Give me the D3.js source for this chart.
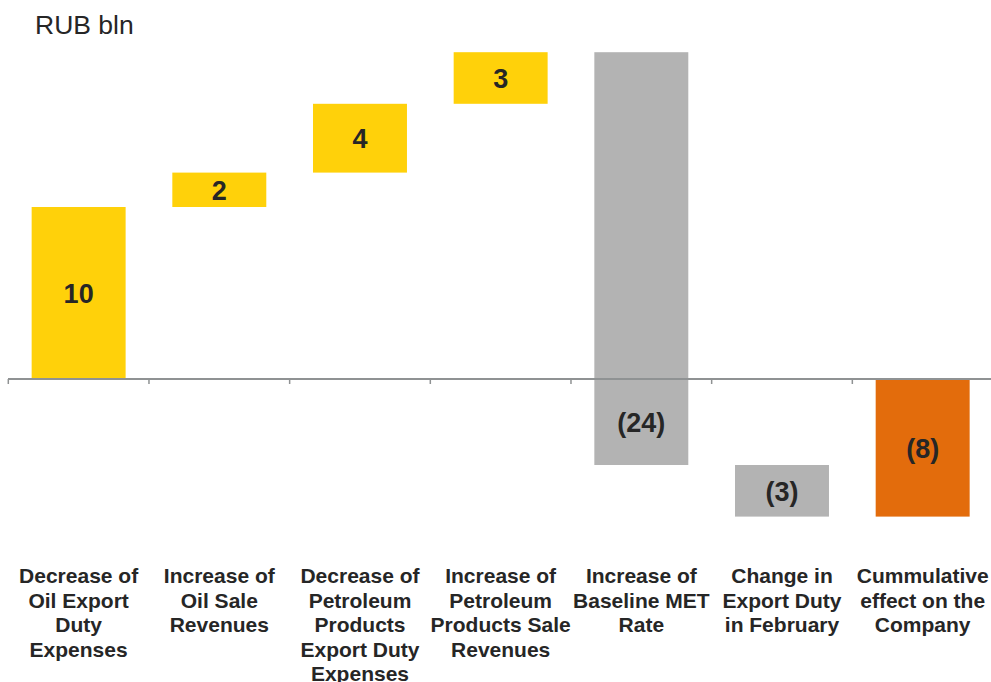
<!DOCTYPE html>
<html>
<head>
<meta charset="utf-8">
<script src="https://cdn.jsdelivr.net/npm/d3@7"></script>
<style>
  html, body { margin: 0; padding: 0; background: #fff; }
  svg { display: block; font-family: "Liberation Sans", Arial, sans-serif; }
</style>
</head>
<body>
<svg id="chart" width="991" height="682"></svg>
<script>
const categories = [
  ["Decrease of", "Oil Export", "Duty", "Expenses"],
  ["Increase of", "Oil Sale", "Revenues"],
  ["Decrease of", "Petroleum", "Products", "Export Duty", "Expenses"],
  ["Increase of", "Petroleum", "Products Sale", "Revenues"],
  ["Increase of", "Baseline MET", "Rate"],
  ["Change in", "Export Duty", "in February"],
  ["Cummulative", "effect on the", "Company"]
];
const values = [10, 2, 4, 3, -24, -3, -8];
const valueLabels = ["10", "2", "4", "3", "(24)", "(3)", "(8)"];
const kinds = ["up", "up", "up", "up", "down", "down", "total"];
const unitLabel = "RUB bln";

const colors = { up: "#FFD10A", down: "#B3B3B3", total: "#E36C0C" };

// waterfall spans
let run = 0;
const bars = values.map((v, i) => {
  let start, end;
  if (kinds[i] === "total") { start = 0; end = v; run = v; }
  else { start = run; end = run + v; run = end; }
  return { i, v, start, end, kind: kinds[i], label: valueLabels[i] };
});

const svg = d3.select("#chart");
const x = d3.scaleBand()
  .domain(d3.range(categories.length))
  .range([8.3, 993])
  .paddingInner(0.332)
  .paddingOuter(0.166);

const y = d3.scaleLinear().domain([0, 19]).range([379, 52.2]);

// bars
svg.append("g").selectAll("rect").data(bars).join("rect")
  .attr("x", d => x(d.i))
  .attr("width", x.bandwidth())
  .attr("y", d => y(Math.max(d.start, d.end)))
  .attr("height", d => Math.abs(y(d.start) - y(d.end)))
  .attr("fill", d => colors[d.kind]);

// axis
const step = x.step();
const axisG = svg.append("g");
axisG.append("line")
  .attr("x1", 8).attr("x2", 991)
  .attr("y1", y(0)).attr("y2", y(0))
  .attr("stroke", "#8F9293").attr("stroke-width", 2);
const tickXs = d3.range(categories.length + 1).map(k => x.range()[0] + k * step);
axisG.selectAll("line.tick").data(tickXs).join("line")
  .attr("class", "tick")
  .attr("x1", d => d).attr("x2", d => d)
  .attr("y1", y(0)).attr("y2", y(0) + 5)
  .attr("stroke", "#8F9293").attr("stroke-width", 1.5);

// value labels
svg.append("g").selectAll("text").data(bars).join("text")
  .attr("x", d => x(d.i) + x.bandwidth() / 2)
  .attr("y", d => {
    let top = Math.max(d.start, d.end), bot = Math.min(d.start, d.end);
    if (top > 0 && bot < 0) top = 0;
    return (y(top) + y(bot)) / 2;
  })
  .attr("dy", "0.36em")
  .attr("text-anchor", "middle")
  .attr("font-size", 27)
  .attr("font-weight", "bold")
  .attr("fill", "#262626")
  .text(d => d.label);

// category labels
const catG = svg.append("g");
categories.forEach((lines, i) => {
  const t = catG.append("text")
    .attr("x", x(i) + x.bandwidth() / 2)
    .attr("y", 583)
    .attr("text-anchor", "middle")
    .attr("font-size", 21)
    .attr("font-weight", "bold")
    .attr("fill", "#262626");
  lines.forEach((ln, k) => {
    t.append("tspan")
      .attr("x", x(i) + x.bandwidth() / 2)
      .attr("y", 583 + k * 24.5)
      .text(ln);
  });
});

// unit label
svg.append("text")
  .attr("x", 35).attr("y", 34)
  .attr("font-size", 26.5)
  .attr("fill", "#262626")
  .text(unitLabel);
</script>
</body>
</html>
